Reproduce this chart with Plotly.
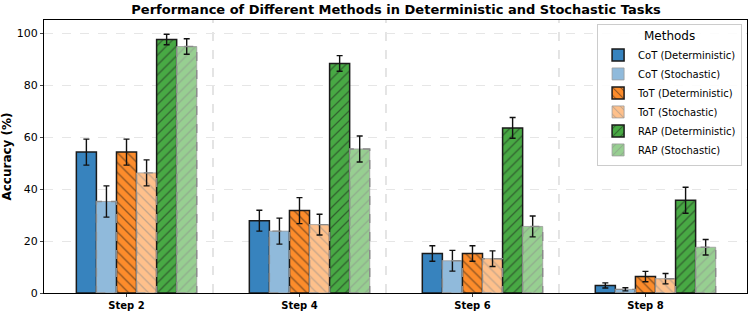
import plotly.graph_objects as go

steps = ["Step 2", "Step 4", "Step 6", "Step 8"]
methods = ["CoT (Deterministic)", "CoT (Stochastic)", "ToT (Deterministic)",
           "ToT (Stochastic)", "RAP (Deterministic)", "RAP (Stochastic)"]

cot_det = [54.2, 27.8, 15.2, 2.9]
cot_det_err = [5.0, 4.0, 3.0, 1.0]
cot_sto = [35.2, 23.8, 12.4, 1.4]
cot_sto_err = [6.0, 5.0, 4.0, 0.6]
tot_det = [54.2, 31.7, 15.2, 6.3]
tot_det_err = [5.0, 5.0, 3.0, 2.0]
tot_sto = [46.2, 26.3, 13.2, 5.5]
tot_sto_err = [5.0, 4.0, 3.0, 2.0]
rap_det = [97.5, 88.3, 63.5, 35.7]
rap_det_err = [2.0, 3.0, 4.0, 5.0]
rap_sto = [94.8, 55.4, 25.6, 17.6]
rap_sto_err = [3.0, 5.0, 4.0, 3.0]

series = [cot_det, cot_sto, tot_det, tot_sto, rap_det, rap_sto]
errors = [cot_det_err, cot_sto_err, tot_det_err, tot_sto_err, rap_det_err, rap_sto_err]
colors = ["#3783be", "#90badb", "#fd8c2b", "#fec08b", "#48a944", "#97cf91"]
hatches = ["", "", "\\", "\\", "/", "/"]

w = 0.116
fig = go.Figure()
shapes = []
for i, (name, vals, errs, col, hat) in enumerate(zip(methods, series, errors, colors, hatches)):
    det = i % 2 == 0
    xs = [k + (i - 2) * w for k in range(len(steps))]
    fig.add_trace(go.Bar(
        x=xs, y=vals, name=name, width=w,
        marker=dict(
            color=col,
            line=dict(color="#1a1a1a" if det else "#9a9a9a", width=1.5 if det else 0.8),
            pattern=dict(shape=hat, fgcolor="#1a1a1a" if det else "#8a8a8a",
                         size=7, solidity=0.18, fillmode="overlay"),
        ),
        error_y=dict(type="data", array=errs, color="#111111", thickness=1.4, width=3),
    ))
    if not det:
        for x, v in zip(xs, vals):
            shapes.append(dict(type="rect", xref="x", yref="y", x0=x - w / 2, x1=x + w / 2,
                               y0=0, y1=v, line=dict(color="#8a8a8a", width=1.4, dash="dash"),
                               layer="above"))

for k in range(len(steps) - 1):
    shapes.append(dict(type="line", xref="x", yref="paper", x0=k + 0.5, x1=k + 0.5, y0=0, y1=1,
                       line=dict(color="#dcdcdc", width=1.5, dash="dash"), layer="below"))

fig.update_layout(
    width=753, height=316,
    margin=dict(l=44, r=5, t=20, b=20),
    paper_bgcolor="white", plot_bgcolor="white",
    font=dict(family="DejaVu Sans", color="black", size=11),
    title=dict(text="<b>Performance of Different Methods in Deterministic and Stochastic Tasks</b>",
               x=0.526, xanchor="center", y=0.971, yanchor="middle", font=dict(size=13)),
    barmode="overlay",
    showlegend=True,
    legend=dict(title=dict(text="Methods", side="top center", font=dict(size=12)),
                x=0.993, xanchor="right", y=0.986, yanchor="top",
                bgcolor="rgba(255,255,255,0.85)", bordercolor="#cccccc", borderwidth=1,
                font=dict(size=10), tracegroupgap=0, itemwidth=30),
    shapes=shapes,
)
fig.update_xaxes(range=[-0.477, 3.587], tickvals=list(range(len(steps))),
                 ticktext=["<b>%s</b>" % s for s in steps], tickfont=dict(size=10),
                 showline=True, linecolor="black", linewidth=1, mirror=True,
                 ticks="outside", ticklen=3, showgrid=False, zeroline=False)
fig.update_yaxes(range=[0, 105], tickvals=[0, 20, 40, 60, 80, 100],
                 title=dict(text="<b>Accuracy (%)</b>", font=dict(size=12), standoff=3),
                 tickfont=dict(size=11),
                 showline=True, linecolor="black", linewidth=1, mirror=True,
                 ticks="outside", ticklen=3, showgrid=True, gridcolor="#e6e6e6",
                 griddash="dash", zeroline=False)

fig.write_html("out.html", config={"displayModeBar": False},
               post_script="document.body.style.margin='0';")
